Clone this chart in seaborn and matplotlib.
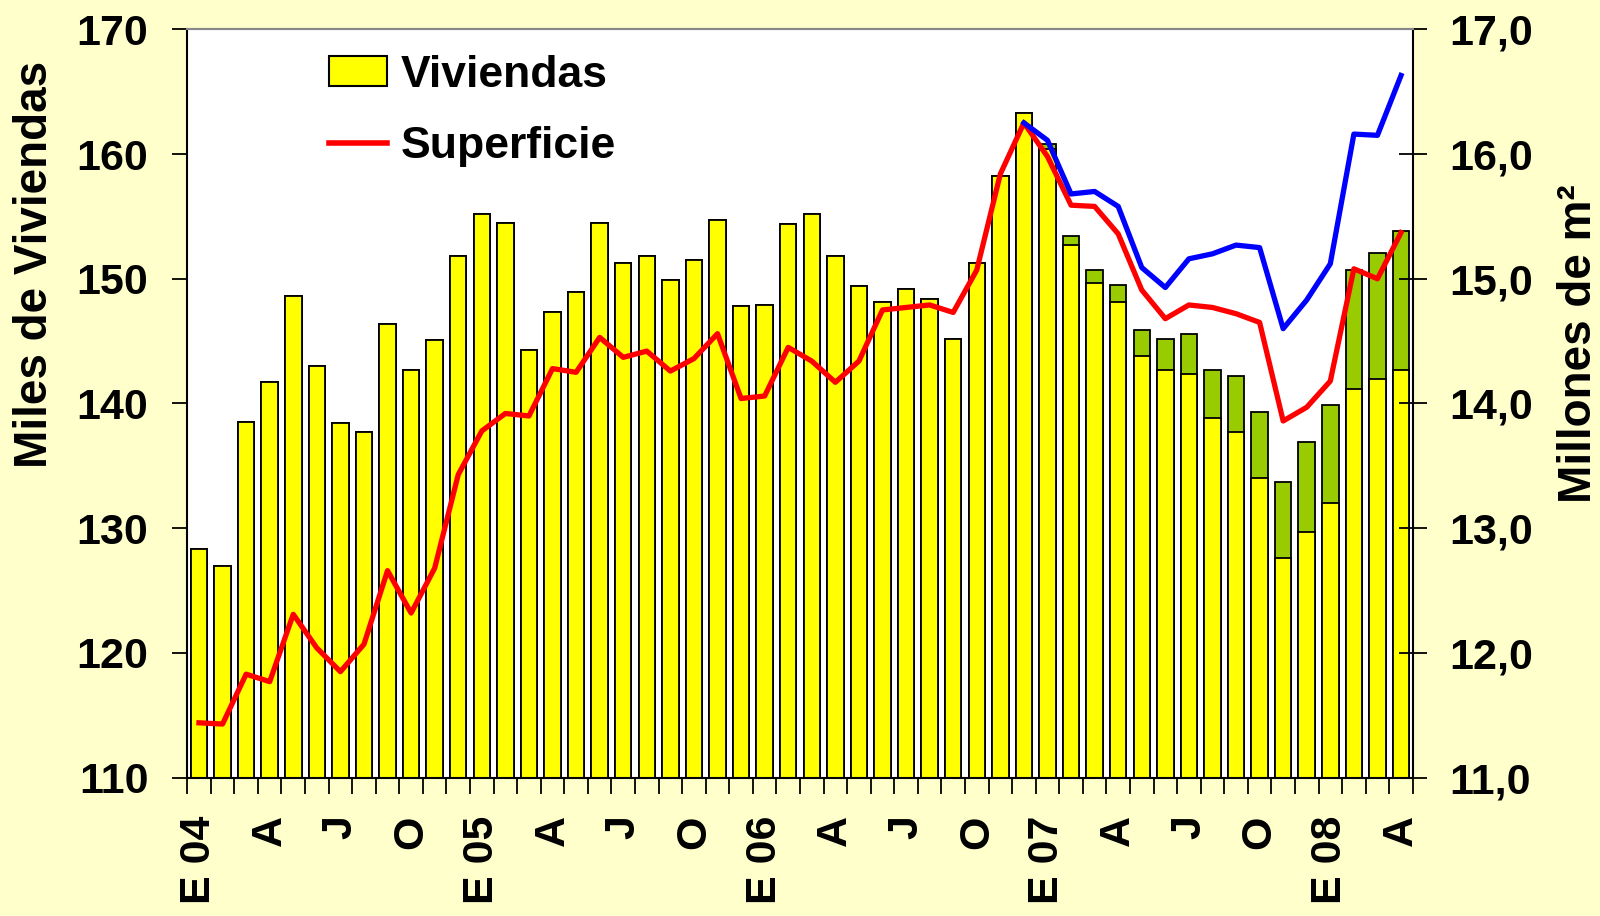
import numpy as np
import matplotlib
matplotlib.use("Agg")
import matplotlib.pyplot as plt
import seaborn as sns
from matplotlib.patches import Patch
from matplotlib.lines import Line2D

# ---------------- data ----------------
month_letters = ['E', 'F', 'M', 'A', 'M', 'J', 'J', 'A', 'S', 'O', 'N', 'D']
years = ['04', '05', '06', '07', '08']
months = [f"{m} {y}" for y in years for m in month_letters][:52]

tick_labels = ['E 04', 'A', 'J', 'O', 'E 05', 'A', 'J', 'O', 'E 06', 'A', 'J', 'O',
               'E 07', 'A', 'J', 'O', 'E 08', 'A']

# Viviendas (miles) - yellow bars
viviendas = [128.3, 127.0, 138.5, 141.7, 148.6, 143.0, 138.4, 137.7, 146.4, 142.7, 145.1, 151.8,
             155.2, 154.5, 144.3, 147.3, 148.9, 154.5, 151.3, 151.8, 149.9, 151.5, 154.7, 147.8,
             147.9, 154.4, 155.2, 151.8, 149.4, 148.1, 149.2, 148.4, 145.2, 151.3, 158.2, 163.3,
             160.4, 152.7, 149.7, 148.1, 143.8, 142.7, 142.4, 138.8, 137.7, 134.0, 127.6, 129.7,
             132.0, 141.2, 142.0, 142.7]

# Total bar height including green segment (from E 07 onward)
total_start = 36
viviendas_total = [160.8, 153.4, 150.7, 149.5, 145.9, 145.2, 145.6, 142.7, 142.2, 139.3,
                   133.7, 136.9, 139.9, 150.7, 152.1, 153.8]

# Superficie (millones m2) - red line
superficie = [11.44, 11.43, 11.83, 11.77, 12.31, 12.04, 11.85, 12.07, 12.66, 12.32, 12.68, 13.43,
              13.78, 13.92, 13.90, 14.28, 14.25, 14.53, 14.37, 14.42, 14.26, 14.36, 14.56, 14.04,
              14.06, 14.45, 14.34, 14.17, 14.34, 14.75, 14.77, 14.79, 14.73, 15.07, 15.84, 16.25,
              15.98, 15.59, 15.58, 15.36, 14.91, 14.68, 14.79, 14.77, 14.72, 14.65, 13.86, 13.97,
              14.18, 15.08, 15.00, 15.37]

# Blue line (from D 06 onward)
blue_start = 35
superficie_total = [16.25, 16.11, 15.68, 15.70, 15.58, 15.09, 14.93, 15.16, 15.20, 15.27,
                    15.25, 14.60, 14.83, 15.12, 16.16, 16.15, 16.63]

left_ticks = [110, 120, 130, 140, 150, 160, 170]
right_ticks = [11, 12, 13, 14, 15, 16, 17]
right_tick_labels = ['11,0', '12,0', '13,0', '14,0', '15,0', '16,0', '17,0']

# ---------------- style ----------------
BG = '#FFFFCC'
YELLOW = '#FFFF00'
GREEN = '#99CC00'
RED = '#FF0000'
BLUE = '#0000FF'

plt.rcParams['font.family'] = ['Liberation Sans', 'DejaVu Sans']
plt.rcParams['font.weight'] = 'bold'

fig = plt.figure(figsize=(16, 9.16), dpi=100, facecolor=BG)
ax = fig.add_axes([0.117, 0.151, 0.766, 0.817])
ax.set_facecolor('white')

x = np.arange(len(months))
viv = np.array(viviendas, dtype=float)
tot = viv.copy()
tot[total_start:total_start + len(viviendas_total)] = viviendas_total

sns.barplot(x=x, y=tot, native_scale=True, color=GREEN, saturation=1,
            edgecolor='black', linewidth=1.3, width=0.7, ax=ax)
sns.barplot(x=x, y=viv, native_scale=True, color=YELLOW, saturation=1,
            edgecolor='black', linewidth=1.3, width=0.7, ax=ax)

ax2 = ax.twinx()
sns.lineplot(x=x, y=superficie, color=RED, linewidth=3.8, ax=ax2)
xb = x[blue_start:blue_start + len(superficie_total)]
sns.lineplot(x=xb, y=superficie_total, color=BLUE, linewidth=3.8, ax=ax2)

for a in (ax, ax2):
    a.set_xlim(-0.5, len(months) - 0.5)
ax.set_ylim(110, 170)
ax2.set_ylim(11, 17)
ax.set_xlabel('')
ax.set_ylabel('')
ax2.set_ylabel('')
ax2.set_xlabel('')

# spines
for a in (ax, ax2):
    a.spines['top'].set_color('#888888')
    a.spines['top'].set_linewidth(1.5)
ax.spines['left'].set_color('black')
ax.spines['left'].set_linewidth(1.5)
ax.spines['bottom'].set_color('black')
ax.spines['bottom'].set_linewidth(1.5)
ax.spines['right'].set_visible(False)
ax2.spines['left'].set_visible(False)
ax2.spines['bottom'].set_visible(False)
ax2.spines['right'].set_color('black')
ax2.spines['right'].set_linewidth(1.5)

# x ticks: marks at month boundaries, labels every quarter
ax.set_xticks(np.arange(-0.5, len(months), 1.0))
ax.set_xticklabels([])
ax.set_xticks(np.arange(0, len(months), 3), minor=True)
ax.set_xticklabels(tick_labels, minor=True, rotation=90, fontsize=31, fontweight='bold')
ax.tick_params(axis='x', which='major', direction='out', length=11.5, width=1.3,
               bottom=True, color='black')
ax.tick_params(axis='x', which='minor', length=0, pad=27, bottom=True)

# left y
ax.set_yticks(left_ticks)
ax.set_yticklabels([str(t) for t in left_ticks], fontsize=31, fontweight='bold')
ax.tick_params(axis='y', direction='out', length=11, width=1.3, pad=17, left=True, color='black')

# right y
ax2.set_yticks(right_ticks)
ax2.set_yticklabels(right_tick_labels, fontsize=31, fontweight='bold')
ax2.tick_params(axis='y', direction='inout', length=20, width=1.3, pad=16, right=True, color='black')

# axis titles
fig.text(35 / 1600, 1 - 264 / 916, 'Miles de Viviendas', rotation=90, ha='center', va='center',
         fontsize=33, fontweight='bold')
fig.text(1579 / 1600, 1 - 344 / 916, 'Millones de m²', rotation=90, ha='center', va='center',
         fontsize=33, fontweight='bold')

# legend
handles = [Patch(facecolor=YELLOW, edgecolor='black', linewidth=1.5),
           Line2D([], [], color=RED, linewidth=4)]
leg = ax2.legend(handles, ['Viviendas', 'Superficie'], loc='upper left',
                 bbox_to_anchor=(0.116, 0.966), frameon=False,
                 prop={'size': 32, 'weight': 'bold'}, handlelength=1.3, handleheight=0.66,
                 handletextpad=0.3, labelspacing=0.68, borderaxespad=0, borderpad=0)

fig.savefig('out.png', dpi=100, facecolor=BG)
